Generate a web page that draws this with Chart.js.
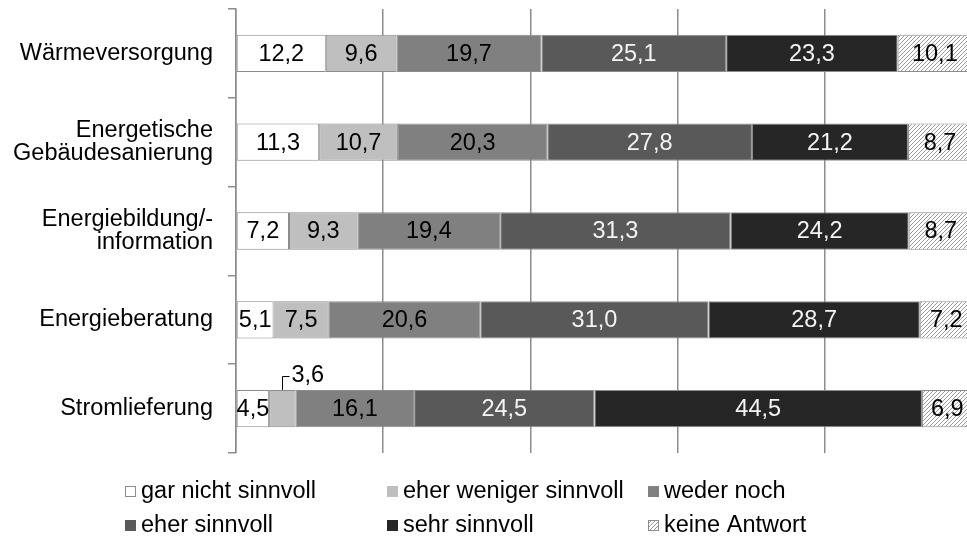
<!DOCTYPE html>
<html><head><meta charset="utf-8">
<script src="https://cdn.jsdelivr.net/npm/chart.js@4/dist/chart.umd.min.js"></script>
<style>html,body{margin:0;padding:0;overflow:hidden;background:#fff}#wrap{width:973px;height:543px;position:relative}</style>
</head><body><div id="wrap"><canvas id="c" width="973" height="543"></canvas></div>
<script>
// ---- data ----
const categories = [["Wärmeversorgung"], ["Energetische", "Gebäudesanierung"], ["Energiebildung/-", "information"], ["Energieberatung"], ["Stromlieferung"]];
const seriesNames = ["gar nicht sinnvoll", "eher weniger sinnvoll", "weder noch", "eher sinnvoll", "sehr sinnvoll", "keine Antwort"];
const garNicht     = [12.2, 11.3, 7.2, 5.1, 4.5];
const eherWeniger  = [9.6, 10.7, 9.3, 7.5, 3.6];
const wederNoch    = [19.7, 20.3, 19.4, 20.6, 16.1];
const eherSinnvoll = [25.1, 27.8, 31.3, 31.0, 24.5];
const sehrSinnvoll = [23.3, 21.2, 24.2, 28.7, 44.5];
const keineAntwort = [10.1, 8.7, 8.7, 7.2, 6.9];
const xTicks = [0, 20, 40, 60, 80, 100];

// ---- style ----
const FONT = '"Liberation Sans", Arial, sans-serif';
const FS = 23.5;
const GRID = '#8c8c8c';

function hatch() {
  const c = document.createElement('canvas');
  c.width = 4; c.height = 4;
  const g = c.getContext('2d');
  g.fillStyle = '#ffffff'; g.fillRect(0, 0, 4, 4);
  g.strokeStyle = '#9a9a9a'; g.lineWidth = 1;
  g.beginPath();
  g.moveTo(-1, 5); g.lineTo(5, -1);
  g.moveTo(-1, 1); g.lineTo(1, -1);
  g.moveTo(3, 5); g.lineTo(5, 3);
  g.stroke();
  return g.createPattern(c, 'repeat');
}
const pattern = hatch();

const seriesData = [garNicht, eherWeniger, wederNoch, eherSinnvoll, sehrSinnvoll, keineAntwort];
const fills = ['#ffffff', '#bfbfbf', '#808080', '#595959', '#262626', pattern];
const labelColors = ['#000', '#000', '#000', '#f4f4f4', '#f4f4f4', '#000'];
const legendBorders = [true, false, false, false, false, true];

const datasets = seriesData.map((d, i) => ({
  label: seriesNames[i],
  data: d,
  backgroundColor: fills[i],
  borderColor: '#8c8c8c',
  borderWidth: 1,
  borderSkipped: false,
  barPercentage: 0.42,
  categoryPercentage: 1,
  labelColor: labelColors[i],
  legendBorder: legendBorders[i]
}));

const fmt = v => v.toFixed(1).replace('.', ',');

const valueLabels = {
  id: 'valueLabels',
  afterDatasetsDraw(chart) {
    const ctx = chart.ctx;
    ctx.save();
    ctx.font = FS + 'px ' + FONT;
    chart.data.datasets.forEach((ds, di) => {
      const meta = chart.getDatasetMeta(di);
      meta.data.forEach((el, i) => {
        const v = ds.data[i];
        const p = el.getProps(['x', 'y', 'base', 'height'], true);
        const cx = (p.x + p.base) / 2;
        const txt = fmt(v);
        if (v < 4) {
          const top = p.y - p.height / 2;
          const ly = Math.round(top - 14);
          ctx.strokeStyle = '#000'; ctx.lineWidth = 1;
          const lx = Math.round(cx) + 0.5;
          ctx.beginPath();
          ctx.moveTo(lx, top); ctx.lineTo(lx, ly + 0.5); ctx.lineTo(lx + 7, ly + 0.5);
          ctx.stroke();
          ctx.fillStyle = '#000';
          ctx.textAlign = 'left'; ctx.textBaseline = 'middle';
          ctx.fillText(txt, lx + 9, ly);
        } else {
          ctx.fillStyle = ds.labelColor;
          ctx.textAlign = 'center'; ctx.textBaseline = 'middle';
          ctx.fillText(txt, cx, p.y + 1);
        }
      });
    });
    ctx.restore();
  }
};

const LEG = { left: 125, colW: 261.5, top: 491, rowH: 34, box: 11, gap: 16 };
const gridLegend = {
  id: 'gridLegend',
  afterDraw(chart) {
    const ctx = chart.ctx;
    ctx.save();
    ctx.font = FS + 'px ' + FONT;
    ctx.textBaseline = 'middle'; ctx.textAlign = 'left';
    chart.data.datasets.forEach((ds, i) => {
      const col = i % 3, row = Math.floor(i / 3);
      const x = Math.round(LEG.left + col * LEG.colW);
      const y = LEG.top + row * LEG.rowH;
      const by = Math.round(y - LEG.box / 2);
      ctx.fillStyle = ds.backgroundColor;
      ctx.fillRect(x, by, LEG.box, LEG.box);
      if (ds.legendBorder) {
        ctx.strokeStyle = '#8c8c8c'; ctx.lineWidth = 1;
        ctx.strokeRect(x + 0.5, by + 0.5, LEG.box - 1, LEG.box - 1);
      }
      ctx.fillStyle = '#000';
      ctx.fillText(ds.label, x + LEG.gap, y + 1);
    });
    ctx.restore();
  }
};

new Chart(document.getElementById('c'), {
  type: 'bar',
  data: { labels: categories, datasets },
  plugins: [valueLabels, gridLegend],
  options: {
    indexAxis: 'y',
    responsive: false,
    animation: false,
    layout: { padding: { top: 9, right: 1, bottom: 90, left: 0 } },
    plugins: { legend: { display: false }, tooltip: { enabled: false } },
    scales: {
      x: {
        stacked: true, min: xTicks[0], max: xTicks[xTicks.length - 1],
        afterBuildTicks: s => { s.ticks = xTicks.map(v => ({ value: v })); },
        ticks: { display: false },
        grid: { color: GRID, lineWidth: 1.5, drawTicks: false },
        border: { display: false },
        afterFit: s => { s.height = 0; s.paddingLeft = 0; s.paddingRight = 0; }
      },
      y: {
        stacked: true,
        afterFit: s => { s.width = 236; s.paddingTop = 0; s.paddingBottom = 0; },
        ticks: { color: '#000', font: { family: FONT, size: FS, lineHeight: 1.0 }, padding: 15 },
        grid: { offset: true, drawOnChartArea: false, drawTicks: true, tickLength: 8, color: GRID, lineWidth: 1.5 },
        border: { display: true, color: GRID, width: 1.5 }
      }
    }
  }
});
</script>
</body></html>
